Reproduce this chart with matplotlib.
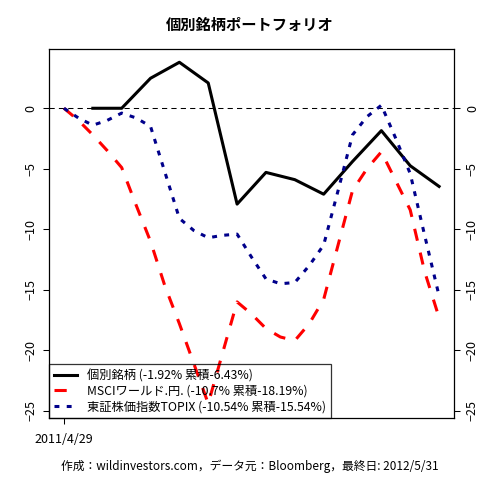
import numpy as np
import matplotlib
matplotlib.use("Agg")
import matplotlib.pyplot as plt

plt.rcParams['font.family'] = ['Noto Sans CJK JP', 'DejaVu Sans']

# monthly points (2011/4/29 .. 2012/5/31)
month_idx = np.arange(14)
stock_pf = [np.nan, 0, 0, 2.48, 3.8, 2.09, -7.92, -5.3, -5.9, -7.1, -4.4, -1.85, -4.75, -6.46]

# index curves, read every half month
half_idx = np.arange(27) / 2
msci_world = [0, -1.0, -2.2, -3.5, -4.9, -8.0, -11.0, -14.7, -17.8, -21.1, -24.4, -20.2, -16.0,
              -17.0, -18.2, -18.9, -19.2, -17.8, -15.8, -11.3, -6.8, -5.0, -3.6, -6.0, -8.4,
              -13.5, -17.3]
topix = [0, -0.8, -1.4, -1.0, -0.4, -0.8, -1.5, -5.3, -9.1, -10.1, -10.7, -10.5, -10.4,
         -12.3, -14.1, -14.5, -14.4, -13.0, -11.3, -6.8, -2.2, -0.7, 0.25, -2.5, -5.4,
         -10.5, -15.5]

labels = ["個別銘柄 (-1.92% 累積-6.43%)",
          "MSCIワールド.円. (-10.7% 累積-18.19%)",
          "東証株価指数TOPIX (-10.54% 累積-15.54%)"]
yticks = [0, -5, -10, -15, -20, -25]

fig = plt.figure(figsize=(4.8, 4.8), dpi=100)
ax = fig.add_axes([0.102, 0.129, 0.844, 0.769])

ax.axhline(0, color='black', lw=0.75, dashes=(5, 4))
ax.plot(month_idx, stock_pf, color='black', lw=2.2, label=labels[0])
ax.plot(half_idx, msci_world, color='#ff0000', lw=2.2, dashes=(4, 4), label=labels[1])
ax.plot(half_idx, topix, color='#00008b', lw=2.2, dashes=(1.6, 2.4), label=labels[2])

ax.set_xlim(-0.52, 13.52)
ax.set_ylim(-25.6, 4.9)
ax.set_xticks([0])
ax.set_xticklabels(["2011/4/29"], fontsize=9)
ax.set_yticks(yticks)
ax.tick_params(axis='y', left=True, right=True, labelleft=True, labelright=True,
               direction='out', length=4.5, width=0.75, pad=4, labelsize=9)
ax.tick_params(axis='x', direction='out', length=4.5, width=0.75, pad=6)
for lab in ax.get_yticklabels():
    lab.set_rotation(90)
    lab.set_va('center')
for sp in ax.spines.values():
    sp.set_linewidth(0.9)

leg = ax.legend(loc='lower left', bbox_to_anchor=(0, 0), borderaxespad=0, fontsize=8.8,
                frameon=True, fancybox=False, handlelength=1.9, handletextpad=0.8,
                labelspacing=0.2, borderpad=0.4)
leg.get_frame().set_facecolor('none')
leg.get_frame().set_edgecolor('black')
leg.get_frame().set_linewidth(0.9)

fig.text(0.521, 1 - 25 / 480, "個別銘柄ポートフォリオ", ha='center', va='center',
         fontsize=11, fontweight='bold')
fig.text(0.521, 1 - 466 / 480, "作成：wildinvestors.com，データ元：Bloomberg，最終日: 2012/5/31",
         ha='center', va='center', fontsize=8.5)

fig.savefig("out.png", dpi=100)
